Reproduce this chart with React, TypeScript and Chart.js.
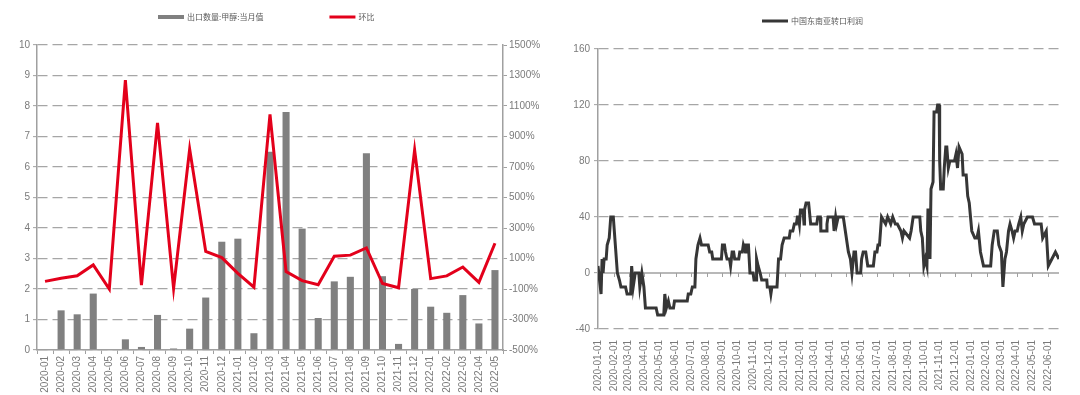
import React, { useEffect, useRef } from 'react';
import { Chart, registerables } from 'chart.js';

Chart.register(...registerables);

// ---------- Left chart data ----------
const MONTHS = [
  '2020-01', '2020-02', '2020-03', '2020-04', '2020-05', '2020-06', '2020-07', '2020-08', '2020-09', '2020-10', '2020-11', '2020-12',
  '2021-01', '2021-02', '2021-03', '2021-04', '2021-05', '2021-06', '2021-07', '2021-08', '2021-09', '2021-10', '2021-11', '2021-12',
  '2022-01', '2022-02', '2022-03', '2022-04', '2022-05',
];
const EXPORT_QTY = [
  0, 1.3, 1.17, 1.85, 0, 0.35, 0.1, 1.15, 0.05, 0.7, 1.72, 3.55,
  3.65, 0.55, 6.5, 7.8, 3.98, 1.05, 2.25, 2.4, 6.45, 2.42, 0.2, 2.0,
  1.42, 1.22, 1.8, 0.87, 2.62,
];
const MOM_PCT = [
  -50, -30, -13, 58, -100, 1270, -74, 990, -96, 818, 146, 106,
  3, -88, 1045, 15, -45, -72, 115, 122, 169, -64, -92, 812,
  -32, -14, 44, -56, 200,
];
const LEFT_Y_TICKS = [0, 10, 1];
const RIGHT_Y_TICKS = [-500, 1500, 200];

// ---------- Right chart data ----------
const PROFIT_XTICKS = [
  '2020-01-01', '2020-02-01', '2020-03-01', '2020-04-01', '2020-05-01', '2020-06-01', '2020-07-01', '2020-08-01', '2020-09-01', '2020-10-01', '2020-11-01', '2020-12-01',
  '2021-01-01', '2021-02-01', '2021-03-01', '2021-04-01', '2021-05-01', '2021-06-01', '2021-07-01', '2021-08-01', '2021-09-01', '2021-10-01', '2021-11-01', '2021-12-01',
  '2022-01-01', '2022-02-01', '2022-03-01', '2022-04-01', '2022-05-01', '2022-06-01',
];
const PROFIT_END = '2022-06-23';
const PROFIT_DATES = [
  '2020-01-01', '2020-01-04', '2020-01-07', '2020-01-09', '2020-01-11', '2020-01-13', '2020-01-17', '2020-01-19', '2020-01-23', '2020-01-26',
  '2020-01-31', '2020-02-04', '2020-02-08', '2020-02-12', '2020-02-15', '2020-02-24', '2020-02-27', '2020-03-05', '2020-03-07', '2020-03-10',
  '2020-03-14', '2020-03-21', '2020-03-23', '2020-03-27', '2020-03-31', '2020-04-03', '2020-04-24', '2020-04-27', '2020-05-09', '2020-05-11',
  '2020-05-14', '2020-05-18', '2020-05-21', '2020-05-28', '2020-05-30', '2020-06-24', '2020-06-26', '2020-07-01', '2020-07-04', '2020-07-09',
  '2020-07-11', '2020-07-15', '2020-07-19', '2020-07-22', '2020-08-04', '2020-08-07', '2020-08-11', '2020-08-13', '2020-08-30', '2020-09-01',
  '2020-09-05', '2020-09-07', '2020-09-10', '2020-09-15', '2020-09-17', '2020-09-20', '2020-09-23', '2020-09-25', '2020-10-03', '2020-10-05',
  '2020-10-10', '2020-10-12', '2020-10-16', '2020-10-17', '2020-10-22', '2020-10-25', '2020-10-31', '2020-11-02', '2020-11-06', '2020-11-07',
  '2020-11-10', '2020-11-14', '2020-11-17', '2020-11-27', '2020-11-28', '2020-12-03', '2020-12-05', '2020-12-07', '2020-12-17', '2020-12-20',
  '2020-12-24', '2020-12-27', '2020-12-31', '2021-01-10', '2021-01-12', '2021-01-17', '2021-01-20', '2021-01-24', '2021-01-26', '2021-01-28',
  '2021-01-30', '2021-02-01', '2021-02-06', '2021-02-08', '2021-02-09', '2021-02-12', '2021-02-17', '2021-02-21', '2021-03-05', '2021-03-07',
  '2021-03-12', '2021-03-13', '2021-03-24', '2021-03-25', '2021-03-27', '2021-04-06', '2021-04-08', '2021-04-11', '2021-04-13', '2021-04-16',
  '2021-04-26', '2021-04-30', '2021-05-06', '2021-05-10', '2021-05-13', '2021-05-17', '2021-05-20', '2021-05-23', '2021-05-30', '2021-06-01',
  '2021-06-04', '2021-06-09', '2021-06-13', '2021-06-24', '2021-06-27', '2021-07-01', '2021-07-03', '2021-07-06', '2021-07-08', '2021-07-10',
  '2021-07-18', '2021-07-22', '2021-07-28', '2021-08-01', '2021-08-06', '2021-08-10', '2021-08-17', '2021-08-20', '2021-08-23', '2021-09-03',
  '2021-09-06', '2021-09-10', '2021-09-12', '2021-09-23', '2021-09-25', '2021-09-28', '2021-10-01', '2021-10-04', '2021-10-07', '2021-10-09',
  '2021-10-11', '2021-10-13', '2021-10-15', '2021-10-19', '2021-10-21', '2021-10-26', '2021-10-28', '2021-10-31', '2021-11-01', '2021-11-03',
  '2021-11-08', '2021-11-10', '2021-11-13', '2021-11-15', '2021-11-18', '2021-11-21', '2021-11-30', '2021-12-03', '2021-12-06', '2021-12-09',
  '2021-12-15', '2021-12-17', '2021-12-23', '2021-12-26', '2021-12-29', '2022-01-03', '2022-01-09', '2022-01-13', '2022-01-16', '2022-01-20',
  '2022-01-23', '2022-01-26', '2022-02-09', '2022-02-12', '2022-02-16', '2022-02-22', '2022-02-25', '2022-03-02', '2022-03-05', '2022-03-09',
  '2022-03-12', '2022-03-16', '2022-03-19', '2022-03-23', '2022-03-26', '2022-03-29', '2022-04-02', '2022-04-05', '2022-04-09', '2022-04-12',
  '2022-04-15', '2022-04-22', '2022-05-02', '2022-05-06', '2022-05-19', '2022-05-22', '2022-05-29', '2022-06-02', '2022-06-09', '2022-06-16',
  '2022-06-23',
];
const PROFIT_VALUES = [
  5, -5, -15, 10, 0, 10, 10, 20, 25, 40,
  40, 20, 0, -5, -10, -10, -15, -15, 5, -10,
  0, 0, -10, 0, -10, -25, -25, -30, -30, -15,
  -25, -20, -25, -25, -20, -20, -15, -15, -10, -10,
  10, 20, 25, 20, 20, 15, 15, 10, 10, 20,
  20, 15, 10, 10, 5, 15, 15, 10, 10, 15,
  15, 20, 15, 20, 20, 0, 0, -5, -5, 10,
  5, 0, -5, -5, -10, -10, -15, -10, -10, 10,
  10, 20, 25, 25, 30, 30, 35, 35, 40, 40,
  35, 45, 45, 35, 45, 50, 50, 35, 35, 40,
  40, 30, 30, 35, 40, 40, 30, 40, 35, 40,
  40, 30, 15, 10, 0, 15, 15, 0, 0, 10,
  15, 15, 5, 5, 15, 15, 20, 20, 30, 40,
  35, 40, 35, 40, 35, 35, 30, 25, 30, 25,
  30, 40, 40, 40, 30, 25, 5, 10, 5, 45,
  45, 10, 60, 65, 115, 115, 120, 120, 80, 60,
  60, 75, 90, 90, 75, 80, 80, 85, 75, 90,
  85, 70, 70, 55, 50, 30, 25, 25, 30, 15,
  10, 5, 5, 20, 30, 30, 20, 15, -10, 10,
  15, 30, 35, 30, 25, 30, 30, 35, 40, 30,
  35, 40, 40, 35, 35, 25, 30, 5, 10, 15,
  10,
];
const PROFIT_Y_TICKS = [-40, 160, 40];

// ---------- Styles ----------
const FONT = "'Liberation Sans', Arial, sans-serif";
const CJK = "'Noto Sans CJK SC', sans-serif";
const TICK_COLOR = '#7a7a7a';
const GRID_COLOR = '#a6a6a6';
const AXIS_COLOR = '#a0a0a0';

function dayIndex(s: string): number {
  const [y, m, d] = s.split('-').map(Number);
  return Math.round((Date.UTC(y, m - 1, d) - Date.UTC(2020, 0, 1)) / 86400000);
}

type LegendItem = { text: string; color: string; h: number };

function makeLegend(items: LegendItem[], startX: number, y: number, gap: number) {
  return {
    id: 'customLegend',
    afterDraw(chart: any) {
      const ctx = chart.ctx as CanvasRenderingContext2D;
      ctx.save();
      ctx.font = `8px ${CJK}`;
      ctx.textBaseline = 'middle';
      ctx.textAlign = 'left';
      let x = startX;
      items.forEach((it) => {
        ctx.fillStyle = it.color;
        ctx.fillRect(x, y - it.h / 2, 26, it.h);
        x += 29;
        ctx.fillStyle = '#595959';
        ctx.fillText(it.text, x, y);
        x += ctx.measureText(it.text).width + gap;
      });
      ctx.restore();
    },
  };
}

const zeroLinePlugin = {
  id: 'zeroLine',
  beforeDatasetsDraw(chart: any) {
    const { ctx, chartArea, scales } = chart;
    const y0 = scales.y.getPixelForValue(0);
    ctx.save();
    ctx.strokeStyle = AXIS_COLOR;
    ctx.lineWidth = 1.5;
    ctx.beginPath();
    ctx.moveTo(chartArea.left, y0);
    ctx.lineTo(chartArea.right, y0);
    ctx.stroke();
    ctx.lineWidth = 1;
    ctx.beginPath();
    scales.x.ticks.forEach((t: any) => {
      const px = Math.round(scales.x.getPixelForValue(t.value)) + 0.5;
      ctx.moveTo(px, y0);
      ctx.lineTo(px, y0 + 4);
    });
    ctx.stroke();
    ctx.restore();
  },
};

function LeftChart() {
  const ref = useRef<HTMLCanvasElement>(null);
  useEffect(() => {
    const chart = new Chart(ref.current!, {
      type: 'bar',
      data: {
        labels: MONTHS,
        datasets: [
          {
            type: 'line',
            label: '环比',
            data: MOM_PCT,
            yAxisID: 'y1',
            borderColor: '#e3001b',
            borderWidth: 3,
            pointRadius: 0,
            tension: 0,
            order: 0,
          } as any,
          {
            type: 'bar',
            label: '出口数量:甲醇:当月值',
            data: EXPORT_QTY,
            yAxisID: 'y',
            backgroundColor: '#808080',
            barPercentage: 0.44,
            categoryPercentage: 1,
            order: 1,
          },
        ],
      },
      options: {
        responsive: false,
        animation: false,
        devicePixelRatio: 1,
        layout: { padding: { top: 45, left: 0, right: 0, bottom: 0 } },
        plugins: { legend: { display: false }, tooltip: { enabled: false } },
        scales: {
          x: {
            type: 'category',
            offset: true,
            grid: { display: true, drawOnChartArea: false, drawTicks: true, tickLength: 4, offset: true, color: AXIS_COLOR },
            border: { display: true, color: AXIS_COLOR, width: 1.5 },
            ticks: {
              autoSkip: false, maxRotation: 90, minRotation: 90, padding: 2,
              color: TICK_COLOR, font: { family: FONT, size: 10 },
            },
            afterFit: (s: any) => { s.height = 45; },
          },
          y: {
            position: 'left',
            min: LEFT_Y_TICKS[0], max: LEFT_Y_TICKS[1],
            ticks: { stepSize: LEFT_Y_TICKS[2], padding: 3, color: TICK_COLOR, font: { family: FONT, size: 10 } },
            grid: { color: GRID_COLOR, lineWidth: 1.3, tickLength: 4, tickColor: AXIS_COLOR, tickBorderDash: [0, 0], tickWidth: 1 },
            border: { display: true, color: AXIS_COLOR, width: 1.5, dash: [10, 5] },
            afterFit: (s: any) => { s.width = 37; },
          },
          y1: {
            position: 'right',
            min: RIGHT_Y_TICKS[0], max: RIGHT_Y_TICKS[1],
            ticks: {
              stepSize: RIGHT_Y_TICKS[2], padding: 2, color: TICK_COLOR, font: { family: FONT, size: 10 },
              callback: (v: any) => `${v}%`,
            },
            grid: { drawOnChartArea: false, tickLength: 4, color: AXIS_COLOR, tickWidth: 1 },
            border: { display: true, color: AXIS_COLOR, width: 1.5 },
            afterFit: (s: any) => { s.width = 45; },
          },
        },
      },
      plugins: [
        makeLegend(
          [
            { text: '出口数量:甲醇:当月值', color: '#808080', h: 4 },
            { text: '环比', color: '#e3001b', h: 3 },
          ],
          158, 17, 66,
        ),
      ],
    });
    return () => chart.destroy();
  }, []);
  return <canvas ref={ref} width={548} height={395} style={{ position: 'absolute', left: 0, top: 0 }} />;
}

function RightChart() {
  const ref = useRef<HTMLCanvasElement>(null);
  useEffect(() => {
    const points = PROFIT_DATES.map((d, i) => ({ x: dayIndex(d), y: PROFIT_VALUES[i] }));
    const tickValues = PROFIT_XTICKS.map(dayIndex);
    const chart = new Chart(ref.current!, {
      type: 'line',
      data: {
        datasets: [
          {
            label: '中国东南亚转口利润',
            data: points,
            borderColor: '#363636',
            borderWidth: 3,
            pointRadius: 0,
            tension: 0,
          },
        ],
      },
      options: {
        responsive: false,
        animation: false,
        devicePixelRatio: 1,
        parsing: false,
        layout: { padding: { top: 49, left: 0, right: 21, bottom: 0 } },
        plugins: { legend: { display: false }, tooltip: { enabled: false } },
        scales: {
          x: {
            type: 'linear',
            min: 0,
            max: dayIndex(PROFIT_END),
            afterBuildTicks: (s: any) => { s.ticks = tickValues.map((v) => ({ value: v })); },
            grid: { display: false },
            border: { display: false },
            ticks: {
              autoSkip: false, maxRotation: 90, minRotation: 90, padding: 3,
              color: TICK_COLOR, font: { family: FONT, size: 10 },
              callback: (_v: any, i: number) => PROFIT_XTICKS[i],
            },
            afterFit: (s: any) => { s.height = 66; },
          },
          y: {
            position: 'left',
            min: PROFIT_Y_TICKS[0], max: PROFIT_Y_TICKS[1],
            ticks: { stepSize: PROFIT_Y_TICKS[2], padding: 4, color: TICK_COLOR, font: { family: FONT, size: 10 } },
            grid: {
              color: (c: any) => (c.tick && c.tick.value === 0 ? 'rgba(0,0,0,0)' : GRID_COLOR),
              lineWidth: 1.3, tickLength: 4, tickColor: AXIS_COLOR, tickBorderDash: [0, 0], tickWidth: 1,
            },
            border: { display: true, color: AXIS_COLOR, width: 1.5, dash: [10, 5] },
            afterFit: (s: any) => { s.width = 58; },
          },
        },
      },
      plugins: [
        zeroLinePlugin,
        makeLegend([{ text: '中国东南亚转口利润', color: '#363636', h: 3 }], 222, 21, 0),
      ],
    });
    return () => chart.destroy();
  }, []);
  return <canvas ref={ref} width={540} height={395} style={{ position: 'absolute', left: 540, top: 0 }} />;
}

export default function App() {
  return (
    <div style={{ position: 'absolute', left: 0, top: 0, width: 1080, height: 395, background: '#fff', overflow: 'hidden' }}>
      <LeftChart />
      <RightChart />
    </div>
  );
}
